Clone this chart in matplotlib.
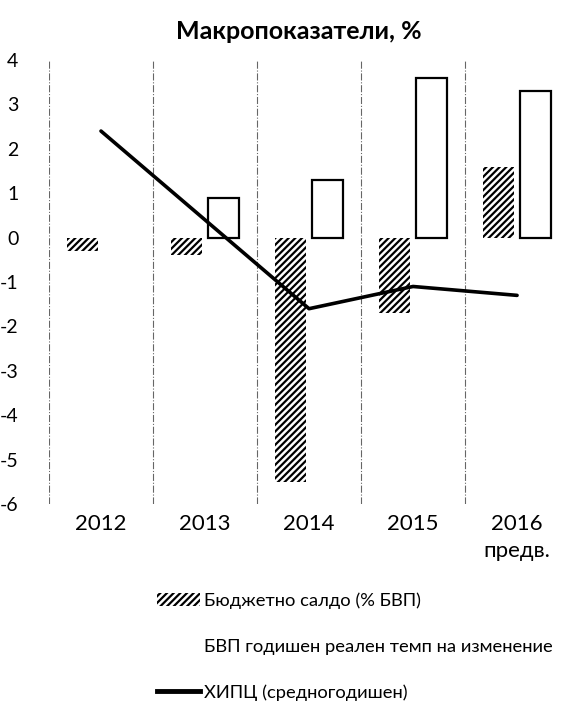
import numpy as np
import matplotlib.pyplot as plt
from matplotlib.patches import Patch
from matplotlib.lines import Line2D

plt.rcParams['font.family'] = ['Lato', 'DejaVu Sans']
plt.rcParams['hatch.linewidth'] = 1.6
plt.rcParams['axes.unicode_minus'] = False

# Данни, отчетени от графиката
godini = ['2012', '2013', '2014', '2015', '2016\nпредв.']
budzhet = [-0.3, -0.4, -5.5, -1.7, 1.6]       # Бюджетно салдо (% БВП)
bvp = [np.nan, 0.9, 1.3, 3.6, 3.3]            # БВП реален темп
hipc = [2.4, 0.4, -1.6, -1.1, -1.3]           # ХИПЦ (средногодишен)

x = np.arange(len(godini))
w = 0.30

fig = plt.figure(figsize=(5.63, 7.10), dpi=100)
ax = fig.add_axes([0.087, 0.290, 0.909, 0.6255])

ax.bar(x - 0.175, budzhet, w, color='white', edgecolor='black',
       hatch='/////', linewidth=0)
ax.bar(x + 0.175, bvp, w, color='white', edgecolor='black', linewidth=1.6)
ax.plot(x, hipc, color='black', linewidth=2.6, solid_capstyle='round')

# вертикални линии между категориите (както в оригинала)
for b in np.arange(-0.5, 4.0, 1.0):
    ax.axvline(b, color='black', linewidth=0.8, linestyle='-.', alpha=0.6)

ax.set_xlim(-0.5, 4.42)
ax.set_ylim(-6, 4)
ax.set_yticks(range(-6, 5))
ax.set_xticks(x)
ax.set_xticklabels(godini, fontsize=16, linespacing=1.45)
ax.tick_params(axis='y', labelsize=14, length=0, pad=22)
ax.tick_params(axis='x', length=0, pad=7)
for s in ax.spines.values():
    s.set_visible(False)

fig.text(0.53, 0.955, 'Макропоказатели, %', ha='center', va='center',
         fontsize=18, fontweight='bold')

handles = [
    Patch(facecolor='white', edgecolor='black', hatch='/////', linewidth=0),
    Patch(facecolor='white', edgecolor='none'),
    Line2D([0], [0], color='black', linewidth=3.5),
]
labels = ['Бюджетно салдо (% БВП)',
          'БВП годишен реален темп на изменение',
          'ХИПЦ (средногодишен)']
fig.legend(handles, labels, loc='upper left', bbox_to_anchor=(0.265, 0.176),
           frameon=False, fontsize=13.2, handlelength=2.35, handletextpad=0.25,
           labelspacing=1.62, borderaxespad=0)

fig.savefig('out.png', dpi=100)
